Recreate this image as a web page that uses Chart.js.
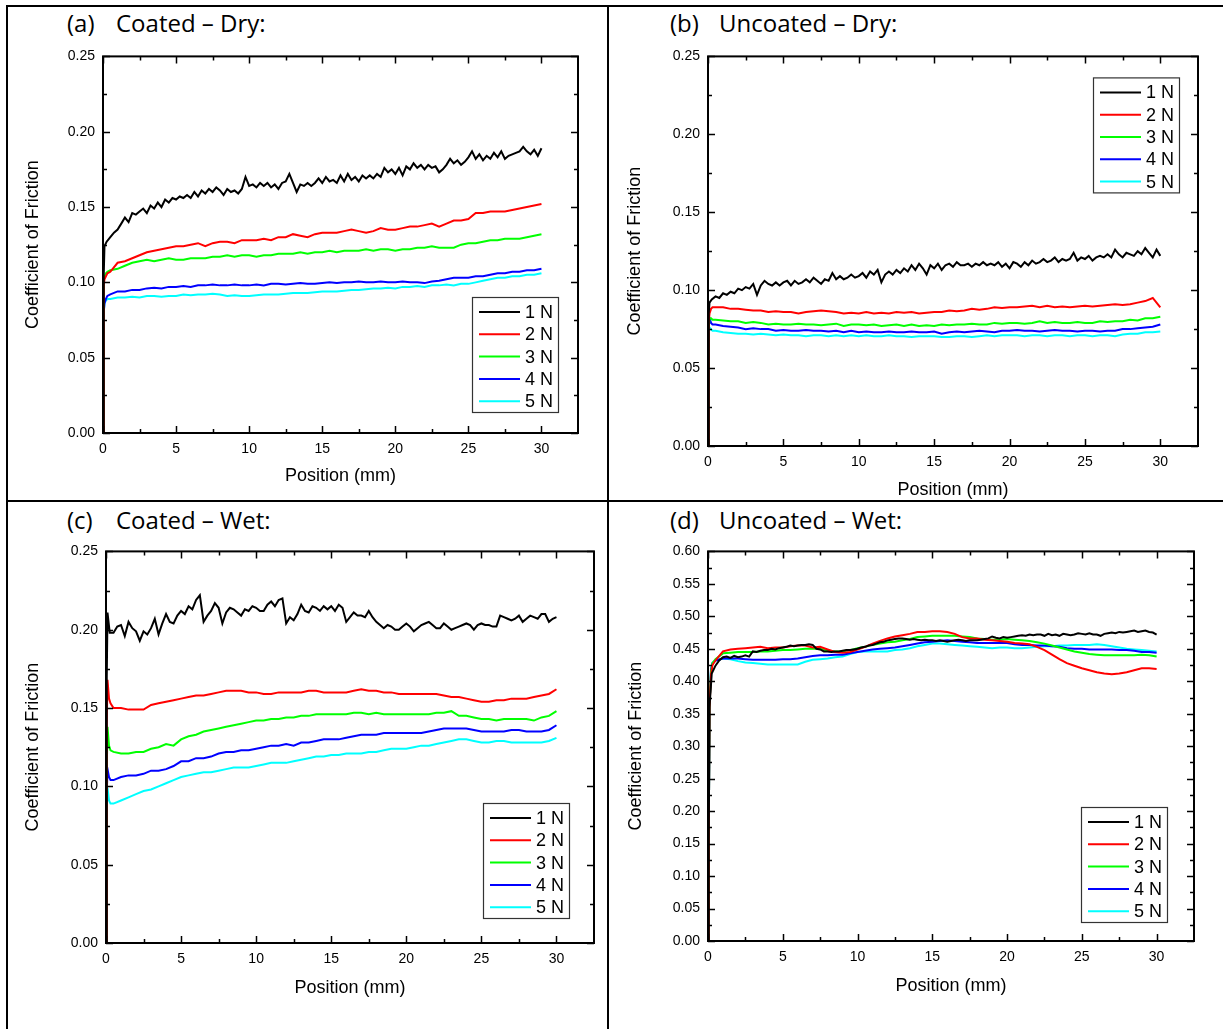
<!DOCTYPE html>
<html>
<head>
<meta charset="utf-8">
<script src="https://cdn.jsdelivr.net/npm/chart.js@4.4.1/dist/chart.umd.min.js"></script>
<style>
  body { margin: 0; background: #fff; }
  #page { position: relative; width: 1223px; height: 1029px; background: #fff; overflow: hidden; }
  .rule { position: absolute; background: #000; }
  .ttl { position: absolute; height: 30px; line-height: 30px; font-family: "Open Sans", sans-serif; font-size: 24px; color: #000; white-space: nowrap; }
  canvas { position: absolute; }
</style>
</head>
<body>
<div id="page">
  <div class="rule" style="left:6px;top:5px;width:2px;height:1024px"></div>
  <div class="rule" style="left:6px;top:5px;width:1217px;height:2px"></div>
  <div class="rule" style="left:607px;top:5px;width:2px;height:1024px"></div>
  <div class="rule" style="left:6px;top:500px;width:1217px;height:2px"></div>

  <div class="ttl" style="left:67px;top:8px">(a)</div>
  <div class="ttl" style="left:116px;top:8px">Coated – Dry:</div>
  <div class="ttl" style="left:670px;top:8px">(b)</div>
  <div class="ttl" style="left:719px;top:8px">Uncoated – Dry:</div>
  <div class="ttl" style="left:67px;top:505px">(c)</div>
  <div class="ttl" style="left:116px;top:505px">Coated – Wet:</div>
  <div class="ttl" style="left:670px;top:505px">(d)</div>
  <div class="ttl" style="left:719px;top:505px">Uncoated – Wet:</div>

  <canvas id="chartA" width="598" height="460" style="left:8px;top:40px"></canvas>
  <canvas id="chartB" width="612" height="461" style="left:610px;top:40px"></canvas>
  <canvas id="chartC" width="598" height="494" style="left:8px;top:535px"></canvas>
  <canvas id="chartD" width="612" height="494" style="left:610px;top:535px"></canvas>
</div>
<script>
// positions (mm) - fine sampling for the noisy 1 N curves, coarse for the rest
const xFine = [0, 0.05, 0.1,
  0.25, 0.5, 0.75, 1, 1.25, 1.5, 1.75, 2,
  2.25, 2.5, 2.75, 3, 3.25, 3.5, 3.75, 4,
  4.25, 4.5, 4.75, 5, 5.25, 5.5, 5.75, 6,
  6.25, 6.5, 6.75, 7, 7.25, 7.5, 7.75, 8,
  8.25, 8.5, 8.75, 9, 9.25, 9.5, 9.75, 10,
  10.25, 10.5, 10.75, 11, 11.25, 11.5, 11.75, 12,
  12.25, 12.5, 12.75, 13, 13.25, 13.5, 13.75, 14,
  14.25, 14.5, 14.75, 15, 15.25, 15.5, 15.75, 16,
  16.25, 16.5, 16.75, 17, 17.25, 17.5, 17.75, 18,
  18.25, 18.5, 18.75, 19, 19.25, 19.5, 19.75, 20,
  20.25, 20.5, 20.75, 21, 21.25, 21.5, 21.75, 22,
  22.25, 22.5, 22.75, 23, 23.25, 23.5, 23.75, 24,
  24.25, 24.5, 24.75, 25, 25.25, 25.5, 25.75, 26,
  26.25, 26.5, 26.75, 27, 27.25, 27.5, 27.75, 28,
  28.25, 28.5, 28.75, 29, 29.25, 29.5, 29.75, 30];

const xCoarse = [0, 0.05, 0.1, 0.2, 0.3,
  0.5, 1, 1.5, 2, 2.5, 3, 3.5, 4, 4.5, 5,
  5.5, 6, 6.5, 7, 7.5, 8, 8.5, 9, 9.5, 10,
  10.5, 11, 11.5, 12, 12.5, 13, 13.5, 14, 14.5, 15,
  15.5, 16, 16.5, 17, 17.5, 18, 18.5, 19, 19.5, 20,
  20.5, 21, 21.5, 22, 22.5, 23, 23.5, 24, 24.5, 25,
  25.5, 26, 26.5, 27, 27.5, 28, 28.5, 29, 29.5, 30];

const loads = ['1 N', '2 N', '3 N', '4 N', '5 N'];
const colors = ['#000000', '#ff0000', '#00ff00', '#0000ff', '#00ffff'];

const xTicks = [0, 5, 10, 15, 20, 25, 30];
const xMinor = [2.5, 7.5, 12.5, 17.5, 22.5, 27.5];
const yTicksDry = [0, 0.05, 0.10, 0.15, 0.20, 0.25];
const yMinorDry = [0.025, 0.075, 0.125, 0.175, 0.225];
const yTicksWetD = [0, 0.05, 0.10, 0.15, 0.20, 0.25, 0.30, 0.35, 0.40, 0.45, 0.50, 0.55, 0.60];
const yMinorWetD = [0.025, 0.075, 0.125, 0.175, 0.225, 0.275, 0.325, 0.375, 0.425, 0.475, 0.525, 0.575];

// (a) Coated - Dry
const coatedDry1N = [0, 0.105, 0.124,
  0.127, 0.130, 0.133, 0.135, 0.139, 0.143, 0.140, 0.146,
  0.145, 0.147, 0.149, 0.146, 0.151, 0.149, 0.153, 0.150,
  0.155, 0.153, 0.156, 0.155, 0.157, 0.156, 0.158, 0.156,
  0.160, 0.157, 0.161, 0.159, 0.162, 0.160, 0.163, 0.161,
  0.158, 0.162, 0.160, 0.161, 0.159, 0.162, 0.170, 0.164,
  0.165, 0.163, 0.166, 0.164, 0.166, 0.163, 0.165, 0.162,
  0.166, 0.167, 0.172, 0.166, 0.160, 0.165, 0.164, 0.166,
  0.164, 0.166, 0.169, 0.166, 0.170, 0.167, 0.168, 0.166,
  0.171, 0.167, 0.172, 0.168, 0.170, 0.167, 0.171, 0.169,
  0.171, 0.169, 0.172, 0.170, 0.176, 0.173, 0.175, 0.172,
  0.176, 0.171, 0.177, 0.175, 0.179, 0.176, 0.178, 0.175,
  0.178, 0.176, 0.177, 0.173, 0.175, 0.178, 0.182, 0.179,
  0.181, 0.178, 0.180, 0.183, 0.187, 0.182, 0.185, 0.181,
  0.184, 0.182, 0.186, 0.183, 0.187, 0.182, 0.184, 0.185,
  0.186, 0.187, 0.190, 0.187, 0.185, 0.188, 0.184, 0.189];
const coatedDry2N = [0, 0.098, 0.102, 0.104, 0.106,
  0.107, 0.113, 0.114, 0.116, 0.118, 0.120, 0.121, 0.122, 0.123, 0.124,
  0.124, 0.125, 0.126, 0.124, 0.126, 0.127, 0.127, 0.126, 0.128, 0.128,
  0.128, 0.129, 0.128, 0.130, 0.130, 0.132, 0.131, 0.130, 0.132, 0.133,
  0.133, 0.133, 0.134, 0.135, 0.134, 0.133, 0.134, 0.136, 0.135, 0.135,
  0.136, 0.137, 0.137, 0.138, 0.139, 0.137, 0.139, 0.141, 0.141, 0.142,
  0.146, 0.146, 0.147, 0.147, 0.147, 0.148, 0.149, 0.150, 0.151, 0.152];
const coatedDry3N = [0, 0.100, 0.104, 0.106, 0.107,
  0.108, 0.109, 0.111, 0.113, 0.114, 0.115, 0.114, 0.115, 0.116, 0.115,
  0.115, 0.116, 0.116, 0.116, 0.117, 0.117, 0.118, 0.117, 0.118, 0.118,
  0.117, 0.118, 0.118, 0.119, 0.119, 0.119, 0.120, 0.119, 0.120, 0.120,
  0.121, 0.120, 0.121, 0.121, 0.121, 0.122, 0.121, 0.122, 0.122, 0.121,
  0.122, 0.122, 0.123, 0.123, 0.124, 0.123, 0.123, 0.123, 0.125, 0.126,
  0.126, 0.127, 0.128, 0.128, 0.129, 0.129, 0.129, 0.130, 0.131, 0.132];
const coatedDry4N = [0, 0.080, 0.086, 0.089, 0.091,
  0.092, 0.094, 0.094, 0.095, 0.095, 0.096, 0.0965, 0.096, 0.097, 0.097,
  0.0975, 0.097, 0.098, 0.098, 0.0985, 0.098, 0.098, 0.0985, 0.098, 0.098,
  0.0985, 0.098, 0.099, 0.099, 0.0985, 0.099, 0.0995, 0.099, 0.099, 0.0995,
  0.100, 0.0995, 0.100, 0.100, 0.1005, 0.100, 0.100, 0.1005, 0.100, 0.100,
  0.1005, 0.100, 0.100, 0.0995, 0.1005, 0.101, 0.102, 0.103, 0.103, 0.103,
  0.104, 0.104, 0.105, 0.106, 0.106, 0.107, 0.107, 0.108, 0.108, 0.109];
const coatedDry5N = [0, 0.080, 0.086, 0.088, 0.089,
  0.089, 0.090, 0.090, 0.0905, 0.090, 0.091, 0.091, 0.0905, 0.091, 0.091,
  0.092, 0.0915, 0.092, 0.092, 0.0925, 0.092, 0.091, 0.0915, 0.091, 0.091,
  0.0915, 0.092, 0.092, 0.092, 0.0925, 0.093, 0.093, 0.093, 0.0935, 0.094,
  0.094, 0.094, 0.0945, 0.095, 0.095, 0.0955, 0.096, 0.096, 0.0965, 0.096,
  0.097, 0.097, 0.0975, 0.097, 0.098, 0.098, 0.0985, 0.098, 0.099, 0.099,
  0.100, 0.101, 0.102, 0.103, 0.103, 0.104, 0.104, 0.105, 0.105, 0.106];

// (b) Uncoated - Dry
const uncoatedDry1N = [0, 0.085, 0.092,
  0.094, 0.096, 0.095, 0.098, 0.097, 0.099, 0.098, 0.101,
  0.100, 0.102, 0.101, 0.104, 0.097, 0.103, 0.106, 0.104,
  0.103, 0.105, 0.103, 0.105, 0.106, 0.103, 0.106, 0.104,
  0.105, 0.107, 0.105, 0.108, 0.106, 0.104, 0.107, 0.106,
  0.111, 0.107, 0.109, 0.107, 0.108, 0.110, 0.108, 0.109,
  0.111, 0.108, 0.112, 0.110, 0.113, 0.105, 0.110, 0.112,
  0.110, 0.113, 0.111, 0.114, 0.112, 0.116, 0.113, 0.117,
  0.114, 0.110, 0.116, 0.114, 0.117, 0.113, 0.116, 0.117,
  0.115, 0.118, 0.116, 0.116, 0.117, 0.115, 0.117, 0.116,
  0.118, 0.116, 0.117, 0.116, 0.118, 0.115, 0.117, 0.114,
  0.118, 0.117, 0.115, 0.118, 0.116, 0.119, 0.117, 0.118,
  0.120, 0.118, 0.119, 0.121, 0.118, 0.120, 0.119, 0.120,
  0.124, 0.119, 0.121, 0.120, 0.122, 0.119, 0.121, 0.122,
  0.121, 0.123, 0.121, 0.126, 0.123, 0.121, 0.124, 0.123,
  0.122, 0.125, 0.123, 0.127, 0.124, 0.121, 0.126, 0.122];
const uncoatedDry2N = [0, 0.080, 0.085, 0.088, 0.089,
  0.089, 0.089, 0.088, 0.088, 0.0875, 0.087, 0.087, 0.086, 0.0865, 0.086,
  0.086, 0.085, 0.086, 0.0865, 0.087, 0.0865, 0.086, 0.085, 0.0855, 0.085,
  0.086, 0.085, 0.0855, 0.085, 0.086, 0.0855, 0.086, 0.085, 0.0855, 0.086,
  0.086, 0.087, 0.0865, 0.087, 0.088, 0.0875, 0.088, 0.089, 0.0885, 0.089,
  0.089, 0.0895, 0.090, 0.089, 0.090, 0.089, 0.0895, 0.089, 0.0895, 0.090,
  0.0895, 0.090, 0.0905, 0.091, 0.0905, 0.091, 0.092, 0.093, 0.095, 0.089];
const uncoatedDry3N = [0, 0.076, 0.082, 0.082, 0.081,
  0.081, 0.0805, 0.080, 0.080, 0.079, 0.0795, 0.079, 0.078, 0.0785, 0.078,
  0.078, 0.0785, 0.078, 0.078, 0.0775, 0.078, 0.0785, 0.077, 0.078, 0.078,
  0.0775, 0.078, 0.077, 0.0775, 0.078, 0.077, 0.078, 0.077, 0.0775, 0.077,
  0.078, 0.0775, 0.078, 0.078, 0.0785, 0.078, 0.078, 0.079, 0.0785, 0.079,
  0.079, 0.0785, 0.079, 0.080, 0.079, 0.0795, 0.079, 0.079, 0.0795, 0.079,
  0.079, 0.080, 0.0795, 0.080, 0.080, 0.081, 0.0805, 0.082, 0.082, 0.083];
const uncoatedDry4N = [0, 0.078, 0.082, 0.079, 0.078,
  0.078, 0.077, 0.0765, 0.076, 0.075, 0.0755, 0.075, 0.075, 0.074, 0.0745,
  0.074, 0.074, 0.0745, 0.074, 0.074, 0.0735, 0.074, 0.073, 0.074, 0.073,
  0.0735, 0.073, 0.073, 0.0735, 0.073, 0.073, 0.0735, 0.073, 0.073, 0.0735,
  0.072, 0.073, 0.0735, 0.073, 0.0735, 0.074, 0.0735, 0.073, 0.074, 0.074,
  0.0745, 0.074, 0.074, 0.0735, 0.074, 0.0745, 0.074, 0.074, 0.0735, 0.074,
  0.074, 0.0735, 0.074, 0.074, 0.075, 0.075, 0.0755, 0.076, 0.0765, 0.078];
const uncoatedDry5N = [0, 0.072, 0.076, 0.075, 0.074,
  0.074, 0.073, 0.0725, 0.072, 0.072, 0.0715, 0.072, 0.0715, 0.071, 0.0715,
  0.071, 0.071, 0.0705, 0.071, 0.071, 0.0705, 0.071, 0.0705, 0.071, 0.0705,
  0.071, 0.0705, 0.0705, 0.071, 0.0705, 0.0705, 0.070, 0.0705, 0.0705, 0.0705,
  0.070, 0.070, 0.0705, 0.0705, 0.070, 0.0705, 0.071, 0.0705, 0.071, 0.071,
  0.071, 0.0705, 0.071, 0.071, 0.0705, 0.071, 0.071, 0.0705, 0.071, 0.071,
  0.0705, 0.071, 0.071, 0.0705, 0.0715, 0.072, 0.072, 0.073, 0.073, 0.0735];

// (c) Coated - Wet
const coatedWet1N = [0, 0.170, 0.211,
  0.198, 0.198, 0.202, 0.203, 0.196, 0.205, 0.201, 0.199,
  0.193, 0.199, 0.197, 0.201, 0.207, 0.197, 0.204, 0.210,
  0.205, 0.204, 0.209, 0.212, 0.210, 0.215, 0.213, 0.219,
  0.222, 0.205, 0.209, 0.212, 0.217, 0.214, 0.204, 0.211,
  0.214, 0.213, 0.211, 0.209, 0.213, 0.212, 0.215, 0.214,
  0.212, 0.212, 0.216, 0.218, 0.215, 0.219, 0.220, 0.204,
  0.208, 0.206, 0.210, 0.216, 0.212, 0.211, 0.215, 0.214,
  0.212, 0.215, 0.213, 0.215, 0.212, 0.216, 0.214, 0.205,
  0.208, 0.211, 0.209, 0.209, 0.208, 0.212, 0.208, 0.205,
  0.203, 0.201, 0.203, 0.202, 0.200, 0.200, 0.202, 0.204,
  0.202, 0.199, 0.201, 0.203, 0.204, 0.205, 0.203, 0.201,
  0.201, 0.204, 0.202, 0.200, 0.201, 0.202, 0.203, 0.204,
  0.203, 0.200, 0.203, 0.204, 0.203, 0.203, 0.202, 0.202,
  0.209, 0.208, 0.207, 0.206, 0.207, 0.209, 0.205, 0.207,
  0.209, 0.208, 0.207, 0.210, 0.210, 0.205, 0.207, 0.208];
const coatedWet2N = [0, 0.140, 0.168, 0.156, 0.153,
  0.150, 0.150, 0.149, 0.149, 0.149, 0.152, 0.153, 0.154, 0.155, 0.156,
  0.157, 0.158, 0.158, 0.159, 0.160, 0.161, 0.161, 0.161, 0.160, 0.160,
  0.159, 0.159, 0.160, 0.160, 0.160, 0.160, 0.161, 0.161, 0.160, 0.160,
  0.160, 0.160, 0.161, 0.162, 0.161, 0.161, 0.160, 0.160, 0.159, 0.159,
  0.159, 0.159, 0.159, 0.159, 0.158, 0.157, 0.157, 0.156, 0.155, 0.154,
  0.154, 0.155, 0.155, 0.156, 0.156, 0.156, 0.157, 0.158, 0.159, 0.162];
const coatedWet3N = [0, 0.110, 0.138, 0.126, 0.123,
  0.122, 0.121, 0.121, 0.122, 0.122, 0.124, 0.125, 0.127, 0.126, 0.130,
  0.132, 0.133, 0.135, 0.136, 0.137, 0.138, 0.139, 0.140, 0.141, 0.142,
  0.142, 0.143, 0.143, 0.144, 0.144, 0.145, 0.145, 0.146, 0.146, 0.146,
  0.146, 0.146, 0.147, 0.147, 0.146, 0.147, 0.146, 0.146, 0.146, 0.146,
  0.146, 0.146, 0.146, 0.147, 0.147, 0.148, 0.145, 0.145, 0.144, 0.143,
  0.143, 0.142, 0.143, 0.143, 0.143, 0.143, 0.142, 0.144, 0.145, 0.148];
const coatedWet4N = [0, 0.095, 0.111, 0.106, 0.104,
  0.104, 0.106, 0.107, 0.107, 0.108, 0.110, 0.110, 0.111, 0.113, 0.116,
  0.116, 0.118, 0.118, 0.119, 0.121, 0.122, 0.122, 0.123, 0.123, 0.124,
  0.125, 0.126, 0.126, 0.127, 0.126, 0.128, 0.128, 0.129, 0.130, 0.130,
  0.130, 0.131, 0.132, 0.133, 0.133, 0.133, 0.134, 0.134, 0.134, 0.134,
  0.134, 0.134, 0.135, 0.136, 0.137, 0.137, 0.137, 0.137, 0.136, 0.135,
  0.135, 0.135, 0.135, 0.136, 0.136, 0.135, 0.135, 0.135, 0.136, 0.139];
const coatedWet5N = [0, 0.090, 0.099, 0.091, 0.089,
  0.089, 0.091, 0.093, 0.095, 0.097, 0.098, 0.100, 0.102, 0.104, 0.106,
  0.107, 0.108, 0.109, 0.109, 0.110, 0.111, 0.112, 0.112, 0.112, 0.113,
  0.114, 0.115, 0.115, 0.115, 0.116, 0.117, 0.118, 0.119, 0.119, 0.120,
  0.120, 0.121, 0.121, 0.121, 0.122, 0.122, 0.123, 0.124, 0.124, 0.124,
  0.125, 0.126, 0.126, 0.127, 0.128, 0.129, 0.130, 0.130, 0.129, 0.128,
  0.128, 0.129, 0.129, 0.128, 0.128, 0.128, 0.128, 0.128, 0.129, 0.131];

// (d) Uncoated - Wet
const uncoatedWet1N = [0, 0.150, 0.360,
  0.412, 0.424, 0.432, 0.437, 0.438, 0.436, 0.439, 0.437,
  0.438, 0.440, 0.438, 0.446, 0.445, 0.447, 0.448, 0.448,
  0.450, 0.449, 0.451, 0.452, 0.453, 0.455, 0.454, 0.455,
  0.456, 0.456, 0.457, 0.456, 0.450, 0.449, 0.446, 0.446,
  0.445, 0.446, 0.446, 0.447, 0.448, 0.448, 0.449, 0.450,
  0.452, 0.453, 0.455, 0.456, 0.458, 0.460, 0.461, 0.463,
  0.464, 0.465, 0.466, 0.466, 0.465, 0.464, 0.465, 0.464,
  0.463, 0.464, 0.463, 0.463, 0.462, 0.463, 0.462, 0.461,
  0.462, 0.463, 0.464, 0.463, 0.462, 0.463, 0.463, 0.463,
  0.464, 0.465, 0.466, 0.469, 0.467, 0.466, 0.468, 0.467,
  0.468, 0.469, 0.470, 0.471, 0.470, 0.472, 0.471, 0.472,
  0.472, 0.470, 0.473, 0.471, 0.472, 0.470, 0.473, 0.472,
  0.471, 0.472, 0.474, 0.473, 0.472, 0.474, 0.472, 0.472,
  0.470, 0.473, 0.474, 0.475, 0.474, 0.476, 0.475, 0.476,
  0.477, 0.478, 0.476, 0.477, 0.478, 0.476, 0.475, 0.472];
const uncoatedWet2N = [0, 0.150, 0.360, 0.410, 0.425,
  0.432, 0.446, 0.449, 0.450, 0.451, 0.452, 0.453, 0.451, 0.452, 0.452,
  0.454, 0.455, 0.455, 0.452, 0.453, 0.449, 0.445, 0.444, 0.445, 0.449,
  0.453, 0.458, 0.462, 0.466, 0.469, 0.471, 0.473, 0.476, 0.476, 0.477,
  0.477, 0.476, 0.473, 0.468, 0.466, 0.466, 0.464, 0.463, 0.462, 0.461,
  0.459, 0.458, 0.457, 0.453, 0.448, 0.441, 0.434, 0.428, 0.424, 0.420,
  0.417, 0.414, 0.412, 0.411, 0.412, 0.414, 0.417, 0.420, 0.420, 0.419];
const uncoatedWet3N = [0, 0.150, 0.360, 0.415, 0.428,
  0.434, 0.443, 0.444, 0.445, 0.445, 0.445, 0.446, 0.446, 0.447, 0.448,
  0.448, 0.449, 0.450, 0.450, 0.450, 0.447, 0.446, 0.446, 0.448, 0.451,
  0.453, 0.456, 0.458, 0.460, 0.461, 0.463, 0.465, 0.468, 0.469, 0.470,
  0.470, 0.470, 0.470, 0.469, 0.468, 0.466, 0.465, 0.464, 0.464, 0.465,
  0.464, 0.463, 0.462, 0.460, 0.458, 0.455, 0.452, 0.449, 0.446, 0.444,
  0.442, 0.441, 0.440, 0.440, 0.440, 0.440, 0.440, 0.441, 0.440, 0.438];
const uncoatedWet4N = [0, 0.150, 0.360, 0.418, 0.428,
  0.432, 0.435, 0.435, 0.435, 0.434, 0.433, 0.433, 0.433, 0.433, 0.434,
  0.434, 0.435, 0.437, 0.439, 0.440, 0.440, 0.441, 0.441, 0.443, 0.445,
  0.447, 0.449, 0.450, 0.451, 0.452, 0.454, 0.456, 0.458, 0.460, 0.461,
  0.462, 0.463, 0.462, 0.461, 0.460, 0.459, 0.459, 0.459, 0.459, 0.459,
  0.457, 0.456, 0.456, 0.455, 0.455, 0.454, 0.453, 0.451, 0.450, 0.450,
  0.449, 0.449, 0.449, 0.449, 0.448, 0.448, 0.447, 0.445, 0.445, 0.444];
const uncoatedWet5N = [0, 0.150, 0.360, 0.418, 0.428,
  0.432, 0.435, 0.434, 0.431, 0.429, 0.428, 0.427, 0.426, 0.426, 0.426,
  0.426, 0.426, 0.430, 0.433, 0.434, 0.435, 0.437, 0.438, 0.442, 0.445,
  0.446, 0.446, 0.446, 0.446, 0.448, 0.449, 0.451, 0.454, 0.456, 0.458,
  0.458, 0.457, 0.456, 0.455, 0.454, 0.453, 0.452, 0.451, 0.452, 0.452,
  0.451, 0.451, 0.452, 0.453, 0.454, 0.454, 0.455, 0.455, 0.456, 0.456,
  0.456, 0.457, 0.456, 0.454, 0.452, 0.450, 0.449, 0.448, 0.447, 0.446];

Chart.defaults.font.family = '"Liberation Sans", Arial, sans-serif';
Chart.defaults.color = '#000';

function zip(xs, ys) {
  return xs.map((x, i) => ({ x: x, y: ys[i] }));
}

// box frame with inward major/minor ticks on all four sides
const frameTicks = {
  id: 'frameTicks',
  afterDatasetsDraw(chart, args, opts) {
    const ctx = chart.ctx;
    const { left, top, right, bottom } = chart.chartArea;
    const sx = chart.scales.x, sy = chart.scales.y;
    ctx.save();
    ctx.strokeStyle = '#000';
    ctx.lineWidth = 1.5;
    ctx.beginPath();
    const tick = (list, len) => {
      list.forEach(v => {
        const px = Math.round(sx.getPixelForValue(v)) + 0.5;
        ctx.moveTo(px, bottom); ctx.lineTo(px, bottom - len);
        ctx.moveTo(px, top); ctx.lineTo(px, top + len);
      });
    };
    const tickY = (list, len) => {
      list.forEach(v => {
        const py = Math.round(sy.getPixelForValue(v)) + 0.5;
        ctx.moveTo(left, py); ctx.lineTo(left + len, py);
        ctx.moveTo(right, py); ctx.lineTo(right - len, py);
      });
    };
    tick(opts.xMajor, 7);
    tick(opts.xMinor, 4);
    tickY(opts.yMajor, 7);
    tickY(opts.yMinor, 4);
    ctx.stroke();
    ctx.lineWidth = 2;
    ctx.strokeRect(left, top, right - left, bottom - top);
    ctx.restore();
  }
};

// boxed legend inside the plot
const boxLegend = {
  id: 'boxLegend',
  afterDraw(chart, args, opts) {
    const ctx = chart.ctx;
    const { top, right, bottom } = chart.chartArea;
    const w = 86, h = 115;
    const bx = right - opts.dx - w;
    const by = opts.corner === 'tr' ? top + opts.dy : bottom - opts.dy - h;
    ctx.save();
    ctx.fillStyle = '#fff';
    ctx.fillRect(bx, by, w, h);
    ctx.strokeStyle = '#333';
    ctx.lineWidth = 1.2;
    ctx.strokeRect(bx + 0.5, by + 0.5, w, h);
    ctx.font = '18px "Liberation Sans", Arial, sans-serif';
    ctx.textBaseline = 'middle';
    chart.data.datasets.forEach((ds, i) => {
      const ry = by + 15 + i * 22.3;
      ctx.strokeStyle = ds.borderColor;
      ctx.lineWidth = 2;
      ctx.beginPath();
      ctx.moveTo(bx + 7, ry);
      ctx.lineTo(bx + 48, ry);
      ctx.stroke();
      ctx.fillStyle = '#000';
      ctx.fillText(ds.label, bx + 53, ry + 1);
    });
    ctx.restore();
  }
};

function makePanel(id, series, p) {
  const datasets = series.map((s, i) => ({
    label: loads[i],
    data: zip(s.xs, s.ys),
    borderColor: colors[i],
    borderWidth: 2,
    pointRadius: 0,
    tension: 0,
    fill: false
  }));
  return new Chart(document.getElementById(id), {
    type: 'line',
    data: { datasets: datasets },
    options: {
      responsive: false,
      animation: false,
      events: [],
      layout: { padding: { left: 0, top: p.padTop, right: p.padRight, bottom: 0 } },
      plugins: {
        legend: { display: false },
        tooltip: { enabled: false },
        frameTicks: { xMajor: xTicks, xMinor: xMinor, yMajor: p.yTicks, yMinor: p.yMinor },
        boxLegend: p.legend
      },
      scales: {
        x: {
          type: 'linear',
          min: 0,
          max: 32.5,
          grid: { display: false, drawTicks: false },
          border: { display: false },
          afterBuildTicks: s => { s.ticks = xTicks.map(v => ({ value: v })); },
          afterFit: s => { s.height = p.xH; },
          ticks: { padding: 8, font: { size: 14 }, maxRotation: 0, callback: v => String(v) },
          title: { display: true, text: 'Position (mm)', font: { size: 18 }, padding: { top: 0, bottom: p.xTitlePad } }
        },
        y: {
          type: 'linear',
          min: 0,
          max: p.yMax,
          grid: { display: false, drawTicks: false },
          border: { display: false },
          afterBuildTicks: s => { s.ticks = p.yTicks.map(v => ({ value: v })); },
          afterFit: s => { s.width = p.yW; },
          ticks: { padding: 8, font: { size: 14 }, callback: v => Number(v).toFixed(2) },
          title: { display: true, text: 'Coefficient of Friction', font: { size: 18 }, padding: { top: p.yTitlePad, bottom: 0 } }
        }
      }
    },
    plugins: [frameTicks, boxLegend]
  });
}

makePanel('chartA', [
  { xs: xFine, ys: coatedDry1N },
  { xs: xCoarse, ys: coatedDry2N },
  { xs: xCoarse, ys: coatedDry3N },
  { xs: xCoarse, ys: coatedDry4N },
  { xs: xCoarse, ys: coatedDry5N }
], { yMax: 0.25, yTicks: yTicksDry, yMinor: yMinorDry, padTop: 10, padRight: 28, yW: 95, xH: 67,
     xTitlePad: 13, yTitlePad: 14, legend: { corner: 'br', dx: 20, dy: 21 } });

makePanel('chartB', [
  { xs: xFine, ys: uncoatedDry1N },
  { xs: xCoarse, ys: uncoatedDry2N },
  { xs: xCoarse, ys: uncoatedDry3N },
  { xs: xCoarse, ys: uncoatedDry4N },
  { xs: xCoarse, ys: uncoatedDry5N }
], { yMax: 0.25, yTicks: yTicksDry, yMinor: yMinorDry, padTop: 11, padRight: 24, yW: 98, xH: 55,
     xTitlePad: 0, yTitlePad: 14, legend: { corner: 'tr', dx: 19, dy: 21 } });

makePanel('chartC', [
  { xs: xFine, ys: coatedWet1N },
  { xs: xCoarse, ys: coatedWet2N },
  { xs: xCoarse, ys: coatedWet3N },
  { xs: xCoarse, ys: coatedWet4N },
  { xs: xCoarse, ys: coatedWet5N }
], { yMax: 0.25, yTicks: yTicksDry, yMinor: yMinorDry, padTop: 12, padRight: 12, yW: 98, xH: 86,
     xTitlePad: 30, yTitlePad: 14, legend: { corner: 'br', dx: 25, dy: 25 } });

makePanel('chartD', [
  { xs: xFine, ys: uncoatedWet1N },
  { xs: xCoarse, ys: uncoatedWet2N },
  { xs: xCoarse, ys: uncoatedWet3N },
  { xs: xCoarse, ys: uncoatedWet4N },
  { xs: xCoarse, ys: uncoatedWet5N }
], { yMax: 0.60, yTicks: yTicksWetD, yMinor: yMinorWetD, padTop: 12, padRight: 28, yW: 98, xH: 88,
     xTitlePad: 32, yTitlePad: 15, legend: { corner: 'br', dx: 27, dy: 19 } });
</script>
</body>
</html>
